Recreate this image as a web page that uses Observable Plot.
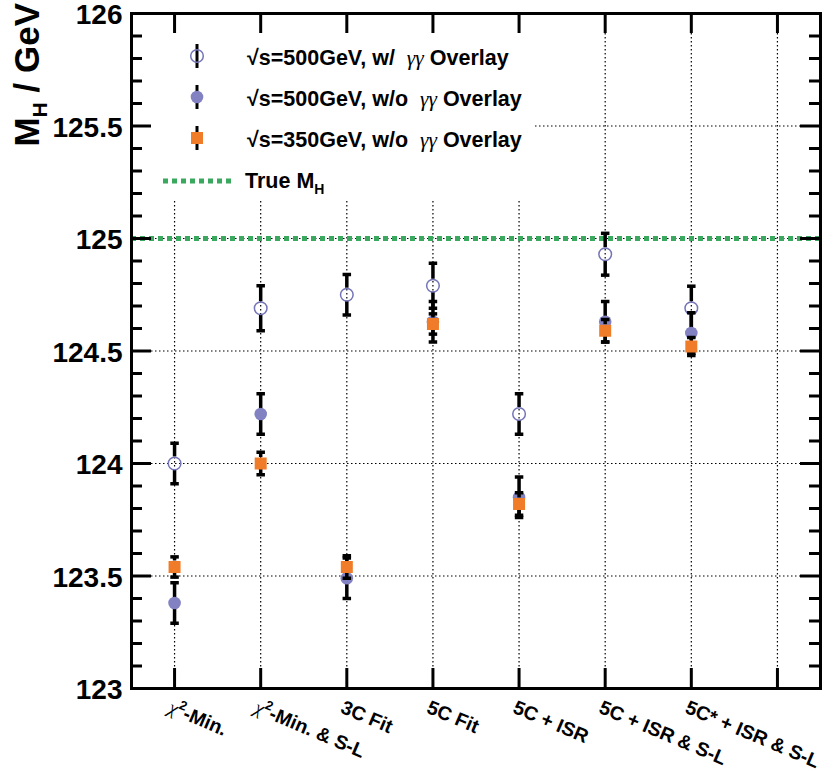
<!DOCTYPE html>
<html>
<head>
<meta charset="utf-8">
<script src="https://cdn.jsdelivr.net/npm/d3@7"></script>
<script src="https://cdn.jsdelivr.net/npm/@observablehq/plot@0.6"></script>
<style>
  body { margin: 0; background: white; }
  #chart { position: relative; width: 833px; height: 771px; }
</style>
</head>
<body>
<div id="chart"></div>
<script>
// ---------- data ----------
const categories = ["χ²-Min.", "χ²-Min. & S-L", "3C Fit", "5C Fit", "5C + ISR", "5C + ISR & S-L", "5C* + ISR & S-L"];
const slotCount = 8; // one empty slot at the right
const mh500Overlay  = [124.00, 124.69, 124.75, 124.79, 124.22, 124.93, 124.69];
const err500Overlay = [0.09, 0.10, 0.09, 0.10, 0.09, 0.093, 0.098];
const mh500   = [123.38, 124.22, 123.49, 124.63, 123.85, 124.63, 124.58];
const err500  = [0.09, 0.09, 0.09, 0.09, 0.09, 0.09, 0.09];
const mh350   = [123.54, 124.00, 123.54, 124.62, 123.82, 124.59, 124.52];
const err350  = [0.045, 0.05, 0.05, 0.045, 0.05, 0.05, 0.04];
const trueMH = 125;
const yTickLabels = [123, 123.5, 124, 124.5, 125, 125.5, 126];
const yGrid = [123.5, 124, 124.5, 125, 125.5];
const seriesLabels = ["√s=500GeV, w/  γγ Overlay", "√s=500GeV, w/o  γγ Overlay", "√s=350GeV, w/o  γγ Overlay"];

// ---------- styles ----------
const W = 833, H = 771;
const mL = 131, mR = 13, mT = 13, mB = 83;
const plotW = W - mL - mR, plotH = H - mT - mB;
const C_OPEN = "#7474b8", C_FILL = "#8282c2", C_SQ = "#f07b28", C_GREEN = "#3aa85e";
const FONT = "Liberation Sans";
const SERIF = "Liberation Serif";

const slots = d3.range(slotCount).map(i => i + 0.5);
const minorY = d3.range(123, 126.0001, 0.1).map(v => Math.round(v * 10) / 10).filter(v => !yTickLabels.includes(v));

const rows = (vals, errs) => vals.map((v, i) => ({x: i + 0.5, v, e: errs[i]}));
const sOpen = rows(mh500Overlay, err500Overlay);
const sFill = rows(mh500, err500);
const sSq = rows(mh350, err350);

const capSymbol = { draw(ctx, size) { const w = Math.sqrt(size) / 2; ctx.moveTo(-w, 0); ctx.lineTo(w, 0); } };

function errorMarks(data, gap) {
  return [
    Plot.ruleX(data, {x: "x", y1: d => d.v + d.e, y2: d => d.v, insetBottom: gap, stroke: "black", strokeWidth: 3.5}),
    Plot.ruleX(data, {x: "x", y1: d => d.v, y2: d => d.v - d.e, insetTop: gap, stroke: "black", strokeWidth: 3.5}),
    Plot.dot(data, {x: "x", y: d => d.v + d.e, symbol: capSymbol, r: 4.8, fill: "none", stroke: "black", strokeWidth: 3.5}),
    Plot.dot(data, {x: "x", y: d => d.v - d.e, symbol: capSymbol, r: 4.8, fill: "none", stroke: "black", strokeWidth: 3.5})
  ];
}

// legend drawn as a render function (under the axes, over the grid)
function legendMark() {
  const g = d3.create("svg:g").attr("font-family", FONT).attr("font-weight", "bold").attr("text-anchor", "start");
  g.append("rect").attr("x", 133).attr("y", 15).attr("width", 400).attr("height", 184).attr("fill", "white");
  const rowsY = [56, 97, 138];
  const mx = 197, tx = 247;
  rowsY.forEach((cy, i) => {
    g.append("line").attr("x1", mx).attr("x2", mx).attr("y1", cy - 12).attr("y2", cy + 12)
      .attr("stroke", "black").attr("stroke-width", 3);
    if (i === 0) g.append("circle").attr("cx", mx).attr("cy", cy).attr("r", 6.3).attr("fill", "none").attr("stroke", C_OPEN).attr("stroke-width", 1.5);
    if (i === 1) g.append("circle").attr("cx", mx).attr("cy", cy).attr("r", 6.3).attr("fill", C_FILL);
    if (i === 2) g.append("rect").attr("x", mx - 6).attr("y", cy - 6).attr("width", 12).attr("height", 12).attr("fill", C_SQ);
    const t = g.append("text").attr("x", tx).attr("y", cy + 8.5).attr("font-size", 21.5);
    const parts = seriesLabels[i].split("γγ");
    t.append("tspan").text(parts[0]);
    t.append("tspan").attr("font-family", SERIF).attr("font-style", "italic").attr("font-weight", "normal").text("γγ");
    t.append("tspan").text(parts[1]);
  });
  g.append("line").attr("x1", 163).attr("x2", 231).attr("y1", 181).attr("y2", 181)
    .attr("stroke", C_GREEN).attr("stroke-width", 5).attr("stroke-dasharray", "5,4");
  const t = g.append("text").attr("x", 245).attr("y", 188).attr("font-size", 21.5);
  t.append("tspan").text("True M");
  t.append("tspan").attr("font-size", 14).attr("dy", 6).text("H");
  return g.node();
}

const plot = Plot.plot({
  width: W, height: H,
  marginLeft: mL, marginRight: mR, marginTop: mT, marginBottom: mB,
  style: {fontFamily: FONT, background: "white", overflow: "visible"},
  x: {domain: [0, slotCount], axis: null},
  y: {domain: [123, 126], axis: null},
  marks: [
    // grid
    Plot.ruleX(slots, {x: d => d, stroke: "black", strokeWidth: 1.2, strokeDasharray: "1.5,2.5"}),
    Plot.ruleY(yGrid, {y: d => d, stroke: "black", strokeWidth: 1.2, strokeDasharray: "1.5,2.5"}),
    // legend box
    legendMark,
    // true mass
    Plot.ruleY([trueMH], {y: d => d, stroke: C_GREEN, strokeWidth: 5, strokeDasharray: "5,4"}),
    // axis ticks (inside)
    Plot.tickY(yTickLabels, {y: d => d, insetRight: plotW - 20, stroke: "black", strokeWidth: 3}),
    Plot.tickY(minorY, {y: d => d, insetRight: plotW - 11, stroke: "black", strokeWidth: 3}),
    Plot.tickY(yTickLabels, {y: d => d, insetLeft: plotW - 20, stroke: "black", strokeWidth: 3}),
    Plot.tickY(minorY, {y: d => d, insetLeft: plotW - 11, stroke: "black", strokeWidth: 3}),
    Plot.tickX(slots, {x: d => d, insetBottom: plotH - 20, stroke: "black", strokeWidth: 3}),
    Plot.tickX(slots, {x: d => d, insetTop: plotH - 20, stroke: "black", strokeWidth: 3}),
    Plot.frame({stroke: "black", strokeWidth: 3}),
    // series
    ...errorMarks(sOpen, 6.5),
    Plot.dot(sOpen, {x: "x", y: "v", r: 6.3, fill: "none", stroke: C_OPEN, strokeWidth: 1.5}),
    ...errorMarks(sFill, 0),
    Plot.dot(sFill, {x: "x", y: "v", r: 6.3, fill: C_FILL, stroke: "none"}),
    ...errorMarks(sSq, 6),
    Plot.dot(sSq, {x: "x", y: "v", symbol: "square", r: 12 / Math.sqrt(Math.PI), fill: C_SQ, stroke: "none"}),
    // tick labels
    Plot.text(yTickLabels, {y: d => d, frameAnchor: "left", dx: -9, dy: 2, textAnchor: "end", text: d => String(d), fontSize: 28, fontWeight: "bold", fill: "black"}),
    Plot.text(categories, {x: (d, i) => i + 0.5, frameAnchor: "bottom", dx: -2, dy: 11, rotate: 23, textAnchor: "start", lineAnchor: "top", text: d => d, fontSize: 19.5, fontWeight: "bold", fill: "black"})
  ]
});

// style the chi symbol like the reference (italic serif with superscript)
d3.select(plot).selectAll("text").each(function () {
  const s = this.textContent;
  if (s.startsWith("χ²")) {
    const el = d3.select(this);
    el.text(null);
    el.append("tspan").attr("font-family", SERIF).attr("font-style", "italic").attr("font-weight", "normal").text("χ");
    el.append("tspan").attr("font-size", 13).attr("dy", -8).text("2");
    el.append("tspan").attr("dy", 8).text(s.slice(2));
  }
});

// y-axis title
const title = d3.select(plot).append("text")
  .attr("transform", "translate(39,3) rotate(-90)")
  .attr("text-anchor", "end")
  .attr("font-family", FONT).attr("font-weight", "bold").attr("font-size", 35).attr("fill", "black");
title.append("tspan").text("M");
title.append("tspan").attr("font-size", 21).attr("dy", 8).text("H");
title.append("tspan").attr("dy", -8).text(" / GeV");

document.getElementById("chart").appendChild(plot);
</script>
</body>
</html>
